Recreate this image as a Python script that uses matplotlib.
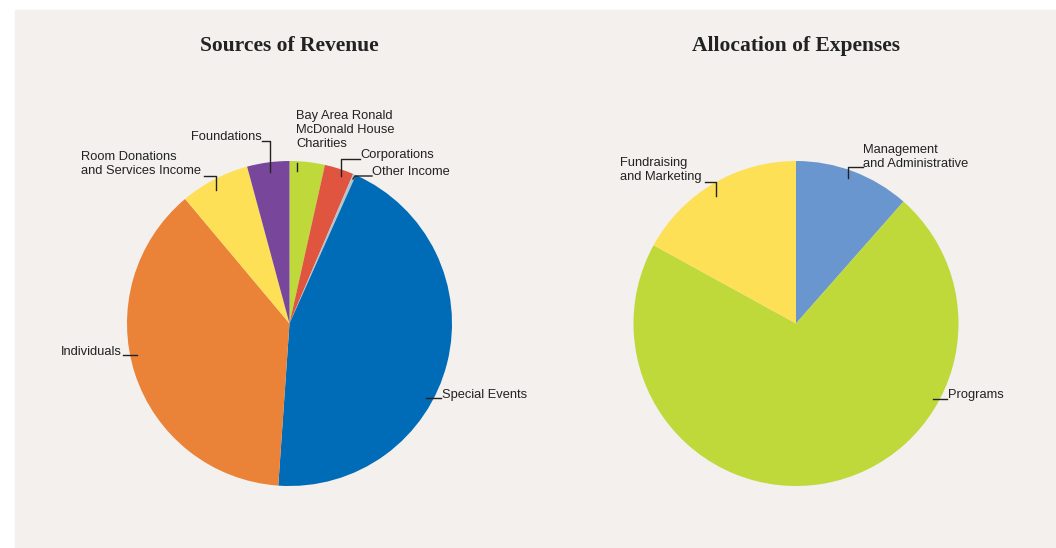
import matplotlib.pyplot as plt
from matplotlib.patches import Rectangle

# Datos (porcentajes aproximados)
rev_labels = ["Bay Area Ronald\nMcDonald House\nCharities", "Corporations", "Other Income",
              "Special Events", "Individuals", "Room Donations\nand Services Income", "Foundations"]
rev_values = [3.5, 2.9, 0.3, 44.4, 37.8, 6.9, 4.2]
rev_colors = ["#bfd83a", "#e05540", "#b9c3cb", "#006bb6", "#ea8337", "#fee057", "#78479b"]

exp_labels = ["Management\nand Administrative", "Programs", "Fundraising\nand Marketing"]
exp_values = [11.5, 71.5, 17.0]
exp_colors = ["#6a96cf", "#bfd83a", "#fee057"]

W, H = 1056, 548
BG = "#f3f0ed"
TXT = "#222222"

fig = plt.figure(figsize=(W / 100, H / 100), dpi=100)
ax = fig.add_axes([0, 0, 1, 1])

ax.add_patch(Rectangle((15, 0), W - 15, H - 10, color=BG, zorder=0))

def y(p):
    # paso de pixeles de la imagen (y hacia abajo) a y hacia arriba
    return H - p

R = 162.5
c_left = (289.5, y(323.5))
c_right = (796, y(323.5))

ax.pie(rev_values, colors=rev_colors, startangle=90, counterclock=False,
       center=c_left, radius=R, wedgeprops=dict(linewidth=0), frame=True)
ax.pie(exp_values, colors=exp_colors, startangle=90, counterclock=False,
       center=c_right, radius=R, wedgeprops=dict(linewidth=0), frame=True)
ax.set_xlim(0, W)
ax.set_ylim(0, H)
ax.set_aspect("equal")
ax.axis("off")

title_font = dict(family="Liberation Serif", fontsize=15.5, fontweight="bold", color=TXT)
ax.text(c_left[0], y(46), "Sources of Revenue", ha="center", va="center", **title_font)
ax.text(c_right[0], y(46), "Allocation of Expenses", ha="center", va="center", **title_font)

lab_font = dict(family="Liberation Sans", fontsize=9.3, color=TXT, linespacing=1.25)

# etiquetas: texto, posicion del texto, alineacion, linea guia (puntos en pixeles)
notes = [
    (rev_labels[0], (296, 130), "left", [(297, 163), (297, 171)]),
    (rev_labels[1], (360, 155), "left", [(360, 159), (341, 159), (341, 176)]),
    (rev_labels[2], (372, 172), "left", [(372, 176), (355, 176), (353, 179)]),
    (rev_labels[3], (442, 395), "left", [(441, 398), (426, 398)]),
    (rev_labels[4], (122, 352), "right", [(123, 355), (137, 355)]),
    (rev_labels[5], (81, 164), "left", [(204, 176), (216, 176), (216, 190)]),
    (rev_labels[6], (262, 137), "right", [(262, 141), (270, 141), (270, 172)]),
    (exp_labels[0], (863, 157), "left", [(863, 167), (848, 167), (848, 178)]),
    (exp_labels[1], (948, 395), "left", [(947, 399), (933, 399)]),
    (exp_labels[2], (620, 170), "left", [(705, 182), (716, 182), (716, 196)]),
]
for txt, (tx, ty), ha, pts in notes:
    ax.text(tx, y(ty), txt, ha=ha, va="center", multialignment="left", **lab_font)
    ax.plot([p[0] for p in pts], [y(p[1]) for p in pts], color=TXT, lw=1, zorder=5)

fig.savefig("out.png", dpi=100, facecolor="white")
